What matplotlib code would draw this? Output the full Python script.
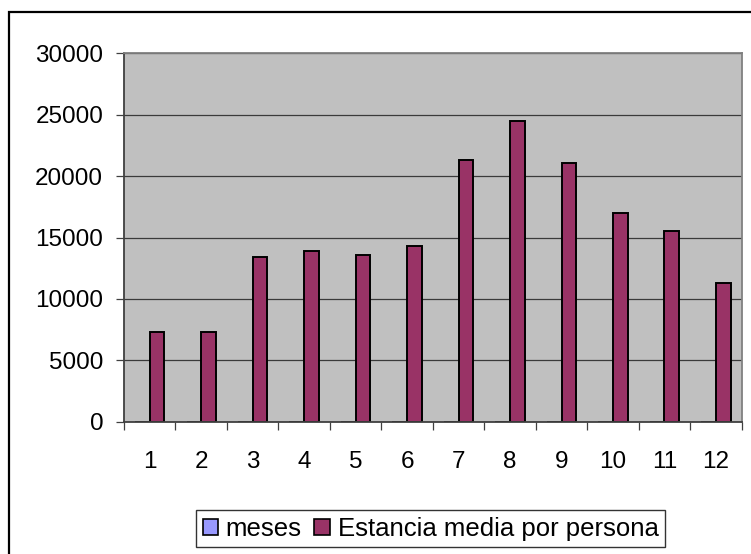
import numpy as np
import matplotlib
matplotlib.use('Agg')
import matplotlib.pyplot as plt
from matplotlib.patches import Rectangle, Patch

plt.rcParams['font.family'] = ['Liberation Sans', 'DejaVu Sans']

# Datos
meses = [1, 2, 3, 4, 5, 6, 7, 8, 9, 10, 11, 12]
estancia = [7340, 7340, 13410, 13870, 13540, 14330, 21350, 24510, 21080, 16970, 15500, 11260]
etiquetas = [str(m) for m in meses]
series = ['meses', 'Estancia media por persona']
colores = ['#9999FF', '#993366']

fig = plt.figure(figsize=(7.51, 5.54), dpi=100)
ax = fig.add_axes([124 / 751, (554 - 421.7) / 554, (741.7 - 124) / 751, (421.7 - 53.3) / 554])
ax.set_facecolor('#C0C0C0')

x = np.arange(1, len(meses) + 1)
w = 1 / 3.5
ax.bar(x - w / 2, meses, w, color=colores[0], edgecolor='black', linewidth=1.4, zorder=3)
ax.bar(x + w / 2, estancia, w, color=colores[1], edgecolor='black', linewidth=1.4, zorder=3)

ax.set_xlim(0.5, 12.5)
ax.set_ylim(0, 30000)
ax.set_yticks(range(0, 30001, 5000))
ax.yaxis.grid(True, color='#3a3a3a', linewidth=0.9, zorder=1)
ax.set_axisbelow(True)

# ticks en los limites de categoria, etiquetas en el centro
ax.set_xticks(np.arange(0.5, 12.6, 1))
ax.set_xticklabels([])
ax.set_xticks(x, minor=True)
ax.set_xticklabels(etiquetas, minor=True)
ax.tick_params(axis='x', which='major', length=6, width=0.9, color='#404040', direction='out')
ax.tick_params(axis='x', which='minor', length=0, pad=21, labelsize=17.5)
ax.tick_params(axis='y', length=6, width=0.9, color='#404040', direction='out', pad=9, labelsize=17.5)

for s in ax.spines.values():
    s.set_color('#808080')
    s.set_linewidth(1.3)
    s.set_zorder(4)
ax.spines['left'].set_color('#404040')
ax.spines['bottom'].set_color('#404040')

# leyenda
handles = [Patch(facecolor=c, edgecolor='black', linewidth=1.2) for c in colores]
leg = fig.legend(handles, series, loc='center', bbox_to_anchor=(430.5 / 751, 25.15 / 554),
                 ncol=2, fontsize=18.5, frameon=True, fancybox=False, edgecolor='black',
                 handlelength=0.6, handleheight=0.6, handletextpad=0.3, columnspacing=0.5,
                 borderpad=0.25, borderaxespad=0)
leg.get_frame().set_linewidth(1.0)

# borde del area del grafico
fig.patches.append(Rectangle((9 / 751, -0.1), 1.2, (554 - 12) / 554 + 0.1, transform=fig.transFigure,
                             fill=False, edgecolor='black', linewidth=1.6, clip_on=False))

fig.savefig('out.png', dpi=100)
